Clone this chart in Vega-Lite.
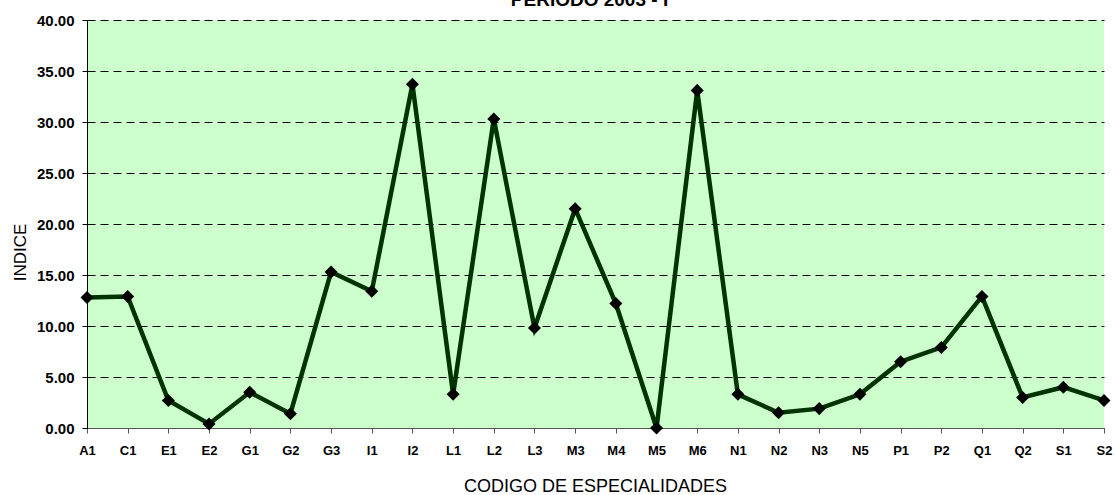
{
  "$schema": "https://vega.github.io/schema/vega-lite/v6.json",
  "autosize": {"type": "none"},
  "padding": {"left": 87, "top": 20, "right": 11, "bottom": 67},
  "width": 1017,
  "height": 408,
  "background": "white",
  "title": {"text": "PERIODO 2003 - I", "font": "Liberation Sans", "fontSize": 19, "fontWeight": "bold", "color": "black", "anchor": "middle", "offset": 0, "dy": 12, "dx": -6, "baseline": "alphabetic"},
  "config": {
    "view": {"fill": "#CCFFCC", "stroke": null},
    "font": "Liberation Sans"
  },
  "data": {
    "values": [
      {"codigo": "A1", "indice": 12.8},
      {"codigo": "C1", "indice": 12.9},
      {"codigo": "E1", "indice": 2.7},
      {"codigo": "E2", "indice": 0.4},
      {"codigo": "G1", "indice": 3.5},
      {"codigo": "G2", "indice": 1.4},
      {"codigo": "G3", "indice": 15.3},
      {"codigo": "I1", "indice": 13.4},
      {"codigo": "I2", "indice": 33.7},
      {"codigo": "L1", "indice": 3.3},
      {"codigo": "L2", "indice": 30.3},
      {"codigo": "L3", "indice": 9.8},
      {"codigo": "M3", "indice": 21.5},
      {"codigo": "M4", "indice": 12.2},
      {"codigo": "M5", "indice": 0.0},
      {"codigo": "M6", "indice": 33.1},
      {"codigo": "N1", "indice": 3.3},
      {"codigo": "N2", "indice": 1.5},
      {"codigo": "N3", "indice": 1.9},
      {"codigo": "N5", "indice": 3.3},
      {"codigo": "P1", "indice": 6.5},
      {"codigo": "P2", "indice": 7.9},
      {"codigo": "Q1", "indice": 12.9},
      {"codigo": "Q2", "indice": 3.0},
      {"codigo": "S1", "indice": 4.0},
      {"codigo": "S2", "indice": 2.7}
    ]
  },
  "encoding": {
    "x": {
      "field": "codigo", "type": "ordinal", "sort": null,
      "scale": {"type": "point", "padding": 0},
      "axis": {
        "title": "CODIGO DE ESPECIALIDADES",
        "titleFont": "Liberation Sans", "titleFontSize": 18, "titleFontWeight": "normal", "titleColor": "black",
        "titleX": 508, "titleY": 63, "titleBaseline": "alphabetic", "titleAlign": "center",
        "labelAngle": 0, "labelFont": "Liberation Sans", "labelFontSize": 13, "labelFontWeight": "bold", "labelColor": "black", "labelPadding": 11,
        "tickSize": 5, "tickColor": "#555555", "domainColor": "#555555", "domainWidth": 1, "grid": false, "labelOverlap": false
      }
    },
    "y": {
      "field": "indice", "type": "quantitative",
      "scale": {"domain": [0, 40], "nice": false, "zero": true},
      "axis": {
        "title": "INDICE",
        "titleFont": "Liberation Sans", "titleFontSize": 17, "titleFontWeight": "normal", "titleColor": "black",
        "titleX": -62, "titleY": 232, "titleBaseline": "alphabetic", "titleAlign": "center", "titleAngle": 270,
        "values": [0, 5, 10, 15, 20, 25, 30, 35, 40], "format": ".2f",
        "labelFont": "Liberation Sans", "labelFontSize": 15, "labelFontWeight": "bold", "labelColor": "black", "labelPadding": 8,
        "tickSize": 5, "tickColor": "black", "domainColor": "black", "domainWidth": 1,
        "grid": true, "gridColor": "black", "gridDash": [8, 5], "gridWidth": 1, "gridOpacity": 1
      }
    }
  },
  "layer": [
    {"mark": {"type": "line", "color": "#003300", "strokeWidth": 4.5}},
    {"mark": {"type": "point", "shape": "diamond", "filled": true, "color": "black", "opacity": 1, "size": 170}}
  ]
}
